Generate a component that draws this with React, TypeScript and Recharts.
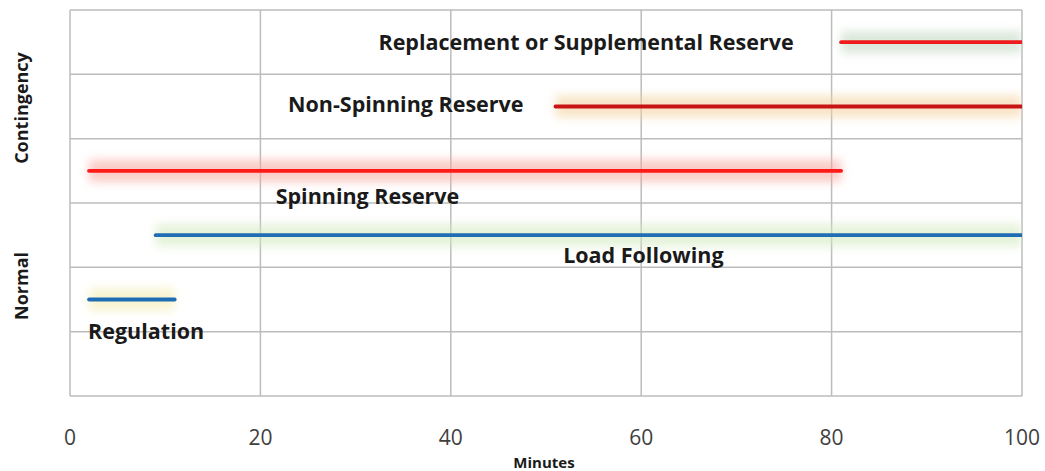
import React from "react";
import { LineChart, Line, XAxis, YAxis, CartesianGrid, ReferenceDot } from "recharts";

// each reserve: start/end minute and row (band centre on a 0-6 scale)
const reserveNames = [
  "Replacement or Supplemental Reserve",
  "Non-Spinning Reserve",
  "Spinning Reserve",
  "Load Following",
  "Regulation",
];
const reserveStart = [81, 51, 2, 9, 2];
const reserveEnd = [100, 100, 81, 100, 11];
const reserveRow = [5.5, 4.5, 3.5, 2.5, 1.5];
const lineColors = ["#ee1c1c", "#c81414", "#ff1a1a", "#1f6db4", "#1f6db4"];
const glowColors = ["#c4d8c4", "#f4d2a0", "#f6a8a0", "#d2eabe", "#f4ecb0"];

// label anchors (start of text, vertical middle)
const labelX = [32.4, 22.9, 21.6, 51.8, 1.9];
const labelY = [5.5, 4.53, 3.1, 2.18, 1.0];

const xTicks = [0, 20, 40, 60, 80, 100];
const yTicks = [0, 1, 2, 3, 4, 5, 6];

const FONT = "'Open Sans', 'Noto Sans', sans-serif";

const XTick = ({ x, y, payload }: any) => (
  <text x={x} y={y + 41} textAnchor="middle" fontSize={21} fill="#404040" fontFamily={FONT}>
    {payload.value}
  </text>
);

export default function App() {
  return (
    <div style={{ position: "absolute", left: 0, top: 0, width: 1045, height: 471, background: "#fff" }}>
      <LineChart width={1045} height={471} margin={{ top: 10, right: 23, bottom: 35, left: 70 }}>
        <defs>
          <filter id="glow" filterUnits="userSpaceOnUse" x="0" y="0" width="1045" height="471">
            <feGaussianBlur stdDeviation="5" />
          </filter>
        </defs>
        <CartesianGrid stroke="#bcbcbc" strokeWidth={1.5} />
        <XAxis
          type="number"
          dataKey="x"
          domain={[0, 100]}
          ticks={xTicks}
          axisLine={false}
          tickLine={false}
          height={40}
          tick={<XTick />}
          allowDataOverflow
        />
        <YAxis type="number" domain={[0, 6]} ticks={yTicks} hide allowDataOverflow />
        {reserveNames.map((name, i) => (
          <Line
            key={`glow-${name}`}
            data={[
              { x: reserveStart[i], y: reserveRow[i] },
              { x: reserveEnd[i], y: reserveRow[i] },
            ]}
            dataKey="y"
            stroke={glowColors[i]}
            strokeWidth={22}
            strokeOpacity={0.6}
            filter="url(#glow)"
            dot={false}
            activeDot={false}
            isAnimationActive={false}
          />
        ))}
        {reserveNames.map((name, i) => (
          <Line
            key={name}
            data={[
              { x: reserveStart[i], y: reserveRow[i] },
              { x: reserveEnd[i], y: reserveRow[i] },
            ]}
            dataKey="y"
            stroke={lineColors[i]}
            strokeWidth={3.8}
            strokeLinecap="round"
            dot={false}
            activeDot={false}
            isAnimationActive={false}
          />
        ))}
        {reserveNames.map((name, i) => (
          <ReferenceDot
            key={`lbl-${name}`}
            x={labelX[i]}
            y={labelY[i]}
            r={0}
            fill="none"
            stroke="none"
            label={{
              content: (p: any) => (
                <text
                  x={p.viewBox.x}
                  y={p.viewBox.y}
                  dy="0.35em"
                  fontSize={21.5}
                  fontWeight={700}
                  fill="#1a1a1a"
                  fontFamily={FONT}
                >
                  {name}
                </text>
              ),
            }}
          />
        ))}
        <text x={28} y={108} transform="rotate(-90 28 108)" textAnchor="middle" fontSize={18} fontWeight={700} fill="#1a1a1a" fontFamily={FONT}>
          Contingency
        </text>
        <text x={28} y={286} transform="rotate(-90 28 286)" textAnchor="middle" fontSize={18} fontWeight={700} fill="#1a1a1a" fontFamily={FONT}>
          Normal
        </text>
        <text x={544} y={468} textAnchor="middle" fontSize={15} fontWeight={700} fill="#1a1a1a" fontFamily={FONT}>
          Minutes
        </text>
      </LineChart>
    </div>
  );
}
